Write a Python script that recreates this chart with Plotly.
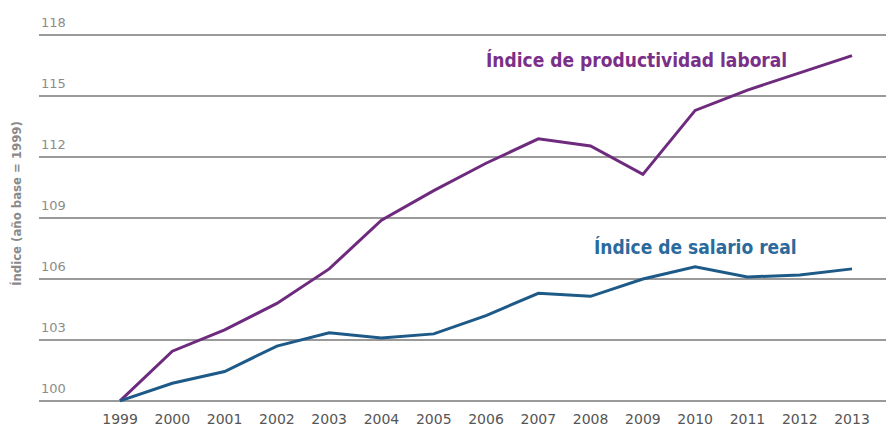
import plotly.graph_objects as go

years = list(range(1999, 2014))
productividad = [100.0, 102.45, 103.5, 104.8, 106.5, 108.9, 110.35, 111.7, 112.9, 112.55,
                 111.15, 114.3, 115.3, 116.15, 117.0]
salario = [100.0, 100.87, 101.45, 102.7, 103.35, 103.1, 103.3, 104.2, 105.3, 105.15,
           106.0, 106.6, 106.1, 106.2, 106.5]
y_ticks = [100, 103, 106, 109, 112, 115, 118]

label_prod = "Índice de productividad laboral"
label_sal = "Índice de salario real"
y_title = "Índice (año base = 1999)"

purple = "#6e2b7e"
blue = "#1d5a88"

fig = go.Figure()
fig.add_trace(go.Scatter(x=years, y=productividad, mode="lines",
                         line=dict(color=purple, width=3), name=label_prod))
fig.add_trace(go.Scatter(x=years, y=salario, mode="lines",
                         line=dict(color=blue, width=3), name=label_sal))

cond = "DejaVu Sans Condensed, Liberation Sans Narrow, sans-serif"
fig.add_annotation(x=2008.88, y=116.77, xref="x", yref="y", text=f"<b>{label_prod}</b>",
                   showarrow=False, font=dict(family=cond, size=19, color="#7a3088"))
fig.add_annotation(x=2010.0, y=107.57, xref="x", yref="y", text=f"<b>{label_sal}</b>",
                   showarrow=False, font=dict(family=cond, size=19, color="#2a6a9c"))
fig.add_annotation(x=-0.0255, y=0.525, xref="paper", yref="paper", text=f"<b>{y_title}</b>",
                   textangle=-90, showarrow=False, xanchor="center", yanchor="middle",
                   font=dict(family=cond, size=13, color="#8a8a8a"))

for v in y_ticks:
    fig.add_annotation(x=0, y=v, xref="paper", yref="y", text=str(v), showarrow=False,
                       xanchor="left", yanchor="bottom", xshift=0, yshift=3,
                       font=dict(family="DejaVu Sans, sans-serif", size=13, color="#8c8c8c"))

fig.update_layout(
    width=894, height=430,
    margin=dict(l=31, r=0, t=12, b=33),
    paper_bgcolor="white", plot_bgcolor="white",
    showlegend=False,
    xaxis=dict(range=[1997.45, 2013.956], tickvals=years, ticktext=[str(y) for y in years],
               showgrid=False, zeroline=False, showline=False, ticks="",
               ticklabelstandoff=4,
               tickfont=dict(family="DejaVu Sans, sans-serif", size=14, color="#555555")),
    yaxis=dict(range=[99.8, 118.75], tickvals=y_ticks, showticklabels=False,
               showgrid=True, gridcolor="#9a9a9a", gridwidth=1.5, zeroline=False,
               showline=False, ticks=""),
)

fig.write_html("out.html")
